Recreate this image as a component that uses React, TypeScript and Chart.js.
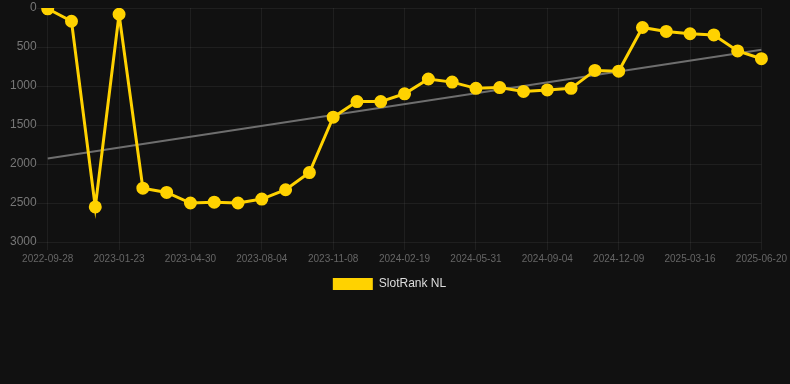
import React, { useEffect, useRef } from "react";
import Chart from "chart.js/auto";

const dates: string[] = [
  "2022-09-28", "2022-10-30", "2022-12-20", "2023-01-23", "2023-02-25", "2023-03-28",
  "2023-04-30", "2023-06-01", "2023-07-03", "2023-08-04", "2023-09-05", "2023-10-07",
  "2023-11-08", "2023-12-10", "2024-01-15", "2024-02-19", "2024-03-25", "2024-04-27",
  "2024-05-31", "2024-07-02", "2024-08-03", "2024-09-04", "2024-10-06", "2024-11-07",
  "2024-12-09", "2025-01-10", "2025-02-12", "2025-03-16", "2025-04-17", "2025-05-19",
  "2025-06-20",
];

const rankValues: number[] = [
  10, 170, 2550, 80, 2310, 2365, 2500, 2490, 2500, 2450, 2330, 2110, 1400, 1200, 1200,
  1100, 910, 950, 1030, 1020, 1070, 1050, 1030, 800, 810, 250, 300, 330, 345, 550, 650,
];

const trendStart = 1930;
const trendEnd = 535;

const yTicks: number[] = [0, 500, 1000, 1500, 2000, 2500, 3000];

const YELLOW = "#FFD200";

export default function App() {
  const canvasRef = useRef<HTMLCanvasElement | null>(null);

  useEffect(() => {
    document.body.style.margin = "0";
    document.body.style.background = "#111111";
    const trend = dates.map((_, i) => (i === 0 ? trendStart : i === dates.length - 1 ? trendEnd : null));
    const chart = new Chart(canvasRef.current!, {
      type: "line",
      data: {
        labels: dates,
        datasets: [
          {
            label: "SlotRank NL",
            data: rankValues,
            borderColor: YELLOW,
            backgroundColor: YELLOW,
            borderWidth: 3,
            pointRadius: 5,
            pointHoverRadius: 5,
            pointBackgroundColor: YELLOW,
            pointBorderColor: YELLOW,
            tension: 0,
            order: 1,
          },
          {
            label: "trend",
            data: trend,
            borderColor: "#6e6e6e",
            backgroundColor: "#6e6e6e",
            borderWidth: 2,
            pointRadius: 0,
            spanGaps: true,
            order: 2,
          },
        ],
      },
      options: {
        animation: false,
        responsive: true,
        maintainAspectRatio: false,
        layout: { padding: { left: 10, right: 21, top: 0, bottom: 0 } },
        plugins: {
          legend: {
            position: "bottom",
            labels: {
              color: "#dddddd",
              font: { size: 12, family: "Liberation Sans, Arial, sans-serif" },
              boxWidth: 40,
              boxHeight: 12,
              padding: 10,
              generateLabels: () => [
                {
                  text: "SlotRank NL",
                  fillStyle: YELLOW,
                  strokeStyle: YELLOW,
                  lineWidth: 0,
                  hidden: false,
                  datasetIndex: 0,
                  fontColor: "#dddddd",
                },
              ],
            },
          },
          tooltip: { enabled: false },
        },
        scales: {
          x: {
            offset: false,
            grid: { color: "rgba(255,255,255,0.06)", tickLength: 8 },
            border: { display: false },
            ticks: {
              autoSkip: false,
              maxRotation: 0,
              color: "#666666",
              font: { size: 10, family: "Liberation Sans, Arial, sans-serif" },
              callback: (_v, i) => (i % 3 === 0 ? dates[i] : null),
            },
          },
          y: {
            reverse: true,
            min: 0,
            max: 3000,
            afterBuildTicks: (axis) => {
              axis.ticks = yTicks.map((v) => ({ value: v }));
            },
            grid: { color: "rgba(255,255,255,0.06)", tickLength: 11 },
            border: { display: false },
            ticks: {
              padding: 0,
              color: "#777777",
              font: { size: 12, lineHeight: 1, family: "Liberation Sans, Arial, sans-serif" },
              callback: (v) => String(v),
            },
          },
        },
      },
    });
    return () => chart.destroy();
  }, []);

  return (
    <div style={{ position: "absolute", left: 0, top: 0, width: 790, height: 384, background: "#111111" }}>
      <div style={{ position: "relative", width: 790, height: 300 }}>
        <canvas ref={canvasRef} />
      </div>
    </div>
  );
}
